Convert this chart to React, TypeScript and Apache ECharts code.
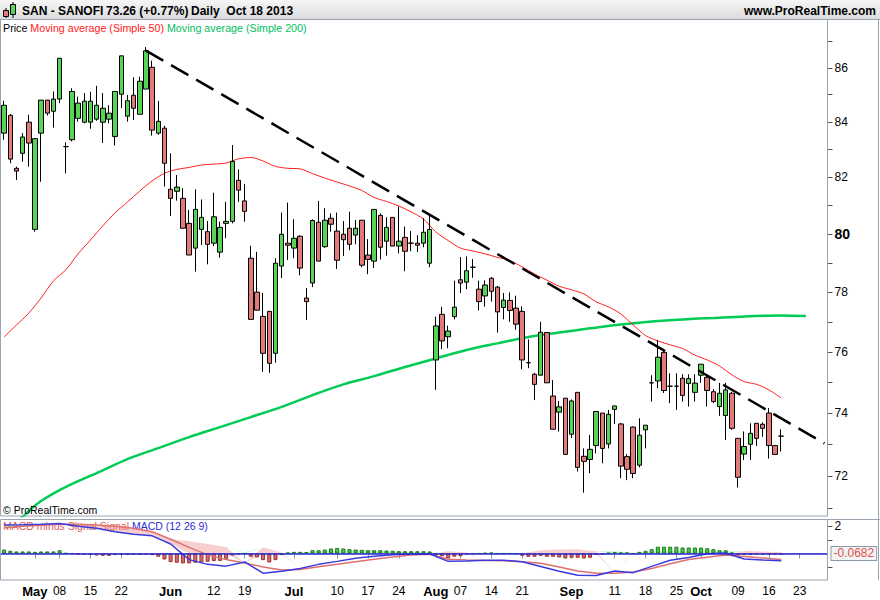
import React, { useEffect, useRef } from "react";
import * as echarts from "echarts";

// ---- trading days (category axis), incl. future days shown on the right ----
const aprDays = [24, 25, 26, 29, 30];
const mayDays = [2, 3, 6, 7, 8, 9, 10, 13, 14, 15, 16, 17, 20, 21, 22, 23, 24, 27, 28, 29, 30, 31];
const junDays = [3, 4, 5, 6, 7, 10, 11, 12, 13, 14, 17, 18, 19, 20, 21, 24, 25, 26, 27, 28];
const julDays = [1, 2, 3, 4, 5, 8, 9, 10, 11, 12, 15, 16, 17, 18, 19, 22, 23, 24, 25, 26, 29, 30, 31];
const augDays = [1, 2, 5, 6, 7, 8, 9, 12, 13, 14, 15, 16, 19, 20, 21, 22, 23, 26, 27, 28, 29, 30];
const sepDays = [2, 3, 4, 5, 6, 9, 10, 11, 12, 13, 16, 17, 18, 19, 20, 23, 24, 25, 26, 27, 30];
const octDays = [1, 2, 3, 4, 7, 8, 9, 10, 11, 14, 15, 16, 17, 18, 21, 22, 23, 24, 25, 28, 29];
const monthDays: [string, number[]][] = [
  ["04", aprDays], ["05", mayDays], ["06", junDays], ["07", julDays],
  ["08", augDays], ["09", sepDays], ["10", octDays],
];
const categories = monthDays.flatMap(([m, ds]) => ds.map((d) => `${m}-${String(d).padStart(2, "0")}`));

const tickLabels: Record<string, string> = {
  "05-02": "May", "05-08": "08", "05-15": "15", "05-22": "22",
  "06-03": "Jun", "06-12": "12", "06-19": "19",
  "07-01": "Jul", "07-10": "10", "07-17": "17", "07-24": "24",
  "08-01": "Aug", "08-07": "07", "08-14": "14", "08-21": "21",
  "09-02": "Sep", "09-11": "11", "09-18": "18", "09-25": "25",
  "10-01": "Oct", "10-09": "09", "10-16": "16", "10-23": "23",
};

// ---- daily candles (Apr 24 .. Oct 18 2013) ----
const opens = [83.59,84.24,82.32,82.86,83.99,80.16,83.59,84.80,84.39,84.84,83.10,83.35,84.13,83.99,83.99,84.10,83.99,84.10,83.47,85.02,84.21,84.98,84.28,85.21,86.02,83.59,83.77,81.57,81.50,81.25,80.37,79.51,80.16,80.08,79.68,79.37,80.37,80.44,81.89,81.16,79.16,78.00,77.18,77.35,75.95,78.89,79.68,79.51,79.92,77.80,78.31,80.41,79.56,80.55,80.10,79.99,80.20,79.96,80.48,79.27,79.06,80.65,79.75,80.58,79.58,79.88,79.68,79.68,79.68,78.99,75.73,77.25,76.50,77.17,78.42,78.34,78.85,78.10,77.87,78.47,78.17,77.48,77.72,77.46,77.35,75.64,75.26,75.23,76.64,74.55,74.03,74.48,73.32,74.67,72.62,72.52,72.96,74.00,73.01,74.12,73.65,72.61,73.55,72.34,73.46,74.98,75.04,75.98,74.87,74.87,75.13,74.96,74.67,75.23,75.16,74.69,74.21,73.92,74.64,73.19,72.69,73.00,73.67,73.64,74.00,72.96,73.26];
const highs = [84.78,84.29,82.38,83.59,84.26,83.39,84.80,84.80,85.12,86.36,83.25,85.24,84.93,85.06,85.11,85.33,85.06,84.61,85.12,86.45,84.99,85.65,85.67,86.78,86.27,84.77,83.86,82.86,82.08,81.61,80.84,81.57,81.21,80.45,81.45,80.43,81.13,83.16,82.28,81.76,79.59,79.38,77.97,77.35,79.16,80.75,81.10,80.51,79.96,78.14,80.51,81.16,80.90,80.72,80.75,80.45,80.78,80.49,80.48,79.82,80.86,80.72,80.58,80.58,80.96,80.26,80.10,79.96,80.55,80.69,77.17,77.50,76.87,78.39,79.20,79.22,79.13,78.39,78.40,78.51,78.21,77.97,77.99,77.88,77.52,76.41,75.31,77.00,76.64,75.07,74.39,74.48,74.44,74.67,72.87,73.30,74.05,74.00,74.10,74.23,73.68,72.69,73.57,73.83,73.61,75.23,76.39,76.08,75.29,75.29,75.26,75.26,75.26,75.59,75.26,74.77,74.98,74.98,74.69,73.19,73.41,73.67,73.67,73.70,74.16,72.96,73.48];
const lows = [83.35,82.50,81.90,82.56,82.38,80.08,81.84,84.23,83.79,84.69,82.14,83.29,84.01,83.95,83.75,84.04,83.23,83.95,83.14,84.50,84.01,84.07,84.28,85.21,83.50,83.53,81.67,80.63,81.17,80.20,79.27,78.70,79.62,78.95,79.58,79.18,79.85,80.37,81.13,80.43,77.08,77.39,75.34,75.31,75.64,78.48,79.10,79.16,78.57,77.06,78.17,79.06,79.51,80.08,78.79,79.24,79.44,79.64,78.85,78.61,78.82,79.12,79.25,79.58,79.33,78.71,79.40,79.37,79.54,78.85,74.75,76.09,76.12,77.08,77.97,78.10,78.49,77.38,77.51,77.68,76.64,77.08,77.00,76.73,75.42,75.46,74.42,75.23,74.98,73.48,73.41,72.68,73.20,72.14,71.48,72.09,72.71,72.40,72.87,73.65,71.93,71.87,71.93,72.27,72.87,74.37,74.80,74.65,74.32,74.10,74.37,74.21,74.37,74.98,74.21,74.32,73.91,73.14,73.46,71.64,72.50,72.50,72.95,73.24,72.55,72.68,72.77];
const closes = [84.61,82.65,82.22,83.45,83.23,83.39,84.80,84.32,84.84,86.36,83.10,85.12,84.69,84.76,84.76,84.61,84.50,84.32,85.12,86.45,84.78,84.50,85.50,86.64,83.70,84.02,82.50,81.25,81.65,80.20,79.27,80.86,80.58,79.64,80.60,80.23,80.44,82.57,81.54,80.79,77.08,77.39,75.95,75.62,78.99,79.99,79.61,79.85,78.82,77.68,80.47,79.06,80.48,80.34,79.09,79.80,79.64,80.20,78.92,79.12,80.86,79.54,80.23,79.58,79.75,79.40,79.68,79.61,80.06,80.16,76.86,76.36,76.69,77.49,78.31,78.73,78.85,77.68,78.24,78.03,77.33,77.73,77.38,76.92,75.73,75.64,74.93,76.65,74.98,73.48,74.20,72.68,74.39,72.27,72.46,72.84,74.05,72.87,73.96,74.23,72.31,72.21,72.08,73.29,73.61,74.98,75.82,74.73,74.87,74.87,74.57,75.12,74.97,75.59,74.73,74.37,74.64,74.75,73.51,71.96,72.93,73.35,73.19,73.51,72.96,72.68,73.26];

// ---- moving averages: [category index, value] ----
const ma50 = [[0,76.49],[2,76.89],[4,77.29],[6,77.80],[8,78.38],[10,78.76],[12,79.31],[14,79.79],[16,80.28],[18,80.74],[20,81.12],[22,81.51],[24,81.87],[26,82.14],[28,82.28],[30,82.35],[32,82.44],[34,82.47],[36,82.51],[38,82.66],[40,82.71],[42,82.58],[44,82.39],[46,82.32],[48,82.30],[50,82.13],[52,81.97],[54,81.83],[56,81.69],[58,81.53],[60,81.28],[62,81.14],[64,80.98],[66,80.77],[68,80.52],[70,80.07],[72,79.77],[74,79.51],[76,79.41],[78,79.31],[80,79.19],[82,79.08],[84,78.86],[86,78.62],[88,78.41],[90,78.20],[92,78.08],[94,77.94],[96,77.67],[98,77.50],[100,77.26],[102,76.89],[104,76.54],[106,76.36],[108,76.23],[110,76.11],[112,75.89],[114,75.73],[116,75.53],[118,75.24],[120,75.02],[122,74.93],[124,74.75],[126,74.485]];
const ma200 = [[0,70.40],[3,70.73],[4,70.91],[6,71.22],[9,71.56],[12,71.84],[15,72.09],[20,72.53],[25,72.88],[30,73.23],[35,73.55],[40,73.87],[45,74.20],[50,74.58],[55,74.93],[60,75.20],[65,75.50],[70,75.78],[75,76.06],[80,76.28],[85,76.49],[90,76.64],[95,76.78],[100,76.91],[105,77.01],[110,77.08],[115,77.13],[120,77.18],[126,77.208],[130,77.19]];
const trendLine = [[23, 86.65], [133, 73.03]];

// ---- MACD (12 26 9) ----
const macdHist = [0.29,0.2,0.15,0.15,0.15,0.12,0.15,0.15,0.15,0.24,0.02,0,-0.05,-0.07,-0.1,-0.15,-0.17,-0.17,-0.12,-0.07,-0.1,-0.07,-0.1,-0.07,-0.12,-0.24,-0.44,-0.63,-0.68,-0.73,-0.73,-0.68,-0.66,-0.61,-0.56,-0.54,-0.39,-0.15,-0.07,0,-0.24,-0.29,-0.49,-0.66,-0.49,-0.12,0.07,0.12,0.12,0.1,0.24,0.24,0.29,0.37,0.41,0.37,0.32,0.29,0.27,0.24,0.24,0.24,0.22,0.2,0.17,0.17,0.17,0.17,0.17,0.15,-0.12,-0.2,-0.37,-0.24,-0.2,-0.05,0,0,0.03,0.07,0,0,0,0,-0.17,-0.24,-0.24,-0.17,-0.24,-0.24,-0.29,-0.37,-0.32,-0.32,-0.37,-0.32,-0.1,-0.07,0.05,0.1,0.07,0.07,0,0.12,0.2,0.32,0.5,0.5,0.5,0.5,0.44,0.44,0.44,0.44,0.39,0.32,0.24,0.24,0.07,-0.1,-0.1,-0.1,-0.07,-0.07,-0.07,-0.07,-0.07];
const macdIdx = [0,3,6,9,12,15,18,21,24,27,30,33,36,39,42,45,48,51,54,57,60,63,66,69,72,75,78,81,84,87,90,93,96,99,102,105,108,111,114,117,120,123,126];
const macdVals = [2.1,2.12,2.15,2.2,2.0,1.85,1.6,1.42,1.3,0.7,-0.45,-0.8,-0.93,-0.62,-1.45,-1.3,-1.1,-0.8,-0.58,-0.35,-0.2,-0.1,-0.03,-0.02,-0.58,-0.56,-0.49,-0.49,-0.61,-0.95,-1.3,-1.6,-1.62,-1.29,-1.41,-0.95,-0.5,-0.3,-0.02,0.03,-0.4,-0.48,-0.54];
const signalVals = [1.9,2.0,2.07,2.15,2.15,2.1,2.0,1.85,1.6,1.05,0.45,-0.1,-0.45,-0.7,-1.0,-1.22,-1.17,-0.97,-0.8,-0.6,-0.42,-0.25,-0.12,-0.05,-0.42,-0.48,-0.52,-0.54,-0.6,-0.72,-1.0,-1.28,-1.46,-1.45,-1.36,-1.1,-0.75,-0.45,-0.27,-0.12,-0.22,-0.33,-0.44];

const lastPrice = 73.26;
const lastMa50 = 74.485;
const lastMa200 = 77.208;
const lastHist = -0.0682;
const lastSignal = -0.4724;
const priceLabels = [72, 74, 76, 78, 80, 82, 84, 86];
const priceTicks = [71, 72, 73, 74, 75, 76, 77, 78, 79, 80, 81, 82, 83, 84, 85, 86, 87];

const L = Math.log;
const FONT = "'Liberation Sans', Arial, sans-serif";
const UP = "#55d455";
const DOWN = "#e27a7a";

function boxLabel(text: string, color: string, bg: string) {
  return {
    show: true,
    position: "end",
    distance: 4,
    formatter: text,
    color,
    backgroundColor: bg,
    borderColor: "#8c9aa8",
    borderWidth: 1,
    padding: [1, 2, 0, 2],
    fontSize: 12,
    fontFamily: FONT,
  };
}

function buildOption() {
  const candleData = opens.map((o, i) => [L(o), L(closes[i]), L(lows[i]), L(highs[i])]);
  const m50 = ma50.map(([i, v]) => [i, L(v)]);
  const m200 = ma200.map(([i, v]) => [i, L(v)]);
  const base = macdIdx.map((i, k) => [i, Math.min(macdVals[k], signalVals[k])]);
  const pinkBand = macdIdx.map((i, k) => [i, Math.max(0, signalVals[k] - macdVals[k])]);
  const greenBand = macdIdx.map((i, k) => [i, Math.max(0, macdVals[k] - signalVals[k])]);
  const histData = macdHist.map((v) => ({
    value: v,
    itemStyle: v >= 0 ? { color: "#44cc44", borderColor: "#1e7a1e" } : { color: "#dd6a6a", borderColor: "#9a2e2e" },
  }));
  const isTick = (_i: number, v: string) => v in tickLabels;
  const headStyle = { fontSize: 12, fontWeight: "bold", color: "#000", fontFamily: FONT };

  return {
    animation: false,
    backgroundColor: "#ffffff",
    title: [
      { left: 22, top: 5, padding: 0, text: "SAN - SANOFI", textStyle: headStyle },
      { left: 106, top: 5, padding: 0, text: "73.26 (+0.77%)", textStyle: headStyle },
      { left: 191, top: 5, padding: 0, text: "Daily  Oct 18 2013", textStyle: headStyle },
      { right: 4, top: 5, padding: 0, text: "www.ProRealTime.com", textStyle: headStyle },
      {
        left: 3, top: 22, padding: 0,
        text: "{k|Price} {r|Moving average (Simple 50)} {g|Moving average (Simple 200)}",
        textStyle: {
          fontSize: 10.7, fontFamily: FONT, fontWeight: "normal",
          rich: {
            k: { color: "#000", fontSize: 10.7, fontFamily: FONT, fontWeight: "normal" },
            r: { color: "#ff1a1a", fontSize: 10.7, fontFamily: FONT, fontWeight: "normal" },
            g: { color: "#00c060", fontSize: 10.7, fontFamily: FONT, fontWeight: "normal" },
          },
        },
      },
      { left: 3, top: 504, padding: 0, text: "© ProRealTime.com", textStyle: { fontSize: 10.5, color: "#000", fontWeight: "normal", fontFamily: FONT } },
      {
        left: 3, top: 520, padding: 0, z: 0,
        text: "{r|MACD minus Signal} {r|Signal} {b|MACD (12 26 9)}",
        textStyle: {
          fontSize: 10.5, fontFamily: FONT, fontWeight: "normal",
          rich: {
            r: { color: "#e05a5a", fontSize: 10.5, fontFamily: FONT, fontWeight: "normal" },
            b: { color: "#2b2bd6", fontSize: 10.5, fontFamily: FONT, fontWeight: "normal" },
          },
        },
      },
    ],
    graphic: [
      {
        type: "rect", z: -10, silent: true,
        shape: { x: 0, y: 0, width: 880, height: 20 },
        style: {
          fill: new echarts.graphic.LinearGradient(0, 0, 0, 1, [
            { offset: 0, color: "#f6f6f6" },
            { offset: 1, color: "#d9dadc" },
          ]),
        },
      },
      { type: "line", silent: true, shape: { x1: 0, y1: 19.5, x2: 880, y2: 19.5 }, style: { stroke: "#9aa5b1", lineWidth: 1 } },
      // header icon
      { type: "line", silent: true, shape: { x1: 6, y1: 8, x2: 6, y2: 18 }, style: { stroke: "#000", lineWidth: 1 } },
      { type: "rect", silent: true, shape: { x: 3.5, y: 10.5, width: 5, height: 6 }, style: { fill: DOWN, stroke: "#000", lineWidth: 1 } },
      { type: "line", silent: true, shape: { x1: 13, y1: 2, x2: 13, y2: 18 }, style: { stroke: "#000", lineWidth: 1 } },
      { type: "rect", silent: true, shape: { x: 10.5, y: 4.5, width: 5, height: 10 }, style: { fill: UP, stroke: "#000", lineWidth: 1 } },
      // panel frames
      { type: "rect", silent: true, z: 20, shape: { x: 0.5, y: 19.5, width: 827, height: 496.5 }, style: { fill: "none", stroke: "#9aa5b1", lineWidth: 1 } },
      { type: "rect", silent: true, z: 20, shape: { x: 0.5, y: 519.5, width: 827, height: 60.5 }, style: { fill: "none", stroke: "#9aa5b1", lineWidth: 1 } },
      { type: "line", silent: true, z: 20, shape: { x1: 827, y1: 519.5, x2: 880, y2: 519.5 }, style: { stroke: "#9aa5b1", lineWidth: 1 } },
      { type: "line", silent: true, z: 20, shape: { x1: 878.5, y1: 20, x2: 878.5, y2: 580 }, style: { stroke: "#9aa5b1", lineWidth: 1 } },
    ],
    grid: [
      { left: 1, top: 20, width: 826.5, height: 496 },
      { left: 1, top: 519.5, width: 826.5, height: 60.5 },
    ],
    xAxis: [
      { type: "category", gridIndex: 0, data: categories, boundaryGap: true, show: false },
      {
        type: "category", gridIndex: 1, data: categories, boundaryGap: true,
        axisLine: { show: true, lineStyle: { color: "#9aa5b1" } },
        axisTick: { show: true, interval: isTick, alignWithLabel: true, length: 5, lineStyle: { color: "#8a96a3" } },
        axisLabel: {
          interval: isTick,
          margin: 5,
          color: "#000",
          fontSize: 12,
          fontFamily: FONT,
          formatter: (v: string) => {
            const t = tickLabels[v] || "";
            return /^[A-Z]/.test(t) ? `{m|${t}}` : t;
          },
          rich: { m: { fontWeight: "bold", fontSize: 13, color: "#000", fontFamily: FONT } },
        },
        splitLine: { show: false },
      },
    ],
    yAxis: [
      {
        type: "value", gridIndex: 0, position: "right",
        min: L(70.757), max: L(87.81), scale: true,
        axisLine: { show: true, lineStyle: { color: "#9aa5b1" } },
        axisTick: { show: true, customValues: priceTicks.map((p) => L(p)), length: 5, lineStyle: { color: "#555" } },
        axisLabel: {
          customValues: priceLabels.map((p) => L(p)),
          margin: 7,
          color: "#000",
          fontSize: 12,
          fontFamily: FONT,
          formatter: (v: number) => {
            const p = Math.round(Math.exp(v));
            return p === 80 ? "{b|80}" : String(p);
          },
          rich: { b: { fontWeight: "bold", fontSize: 14, color: "#000", fontFamily: FONT } },
        },
        splitLine: { show: false },
      },
      {
        type: "value", gridIndex: 1, position: "right",
        min: -1.95, max: 2.5,
        axisLine: { show: true, lineStyle: { color: "#9aa5b1" } },
        axisTick: { show: true, customValues: [-1, 1, 2], length: 5, lineStyle: { color: "#555" } },
        axisLabel: { customValues: [2], margin: 7, color: "#000", fontSize: 12, fontFamily: FONT },
        splitLine: { show: false },
      },
    ],
    series: [
      {
        type: "line", name: "MA200", xAxisIndex: 0, yAxisIndex: 0, data: m200,
        showSymbol: false, smooth: 0.3, z: 3,
        lineStyle: { color: "#00cc55", width: 2.5 },
        markLine: {
          silent: true, symbol: "none", animation: false,
          data: [{ yAxis: L(lastMa200), lineStyle: { opacity: 0 }, label: boxLabel("77.208", "#00b050", "#f3f3f3") }],
        },
      },
      {
        type: "line", name: "MA50", xAxisIndex: 0, yAxisIndex: 0, data: m50,
        showSymbol: false, smooth: 0.3, z: 3,
        lineStyle: { color: "#ff2020", width: 1 },
        markLine: {
          silent: true, symbol: "none", animation: false,
          data: [{ yAxis: L(lastMa50), lineStyle: { opacity: 0 }, label: boxLabel("74.485", "#ff0000", "#f3f3f3") }],
        },
      },
      {
        type: "candlestick", name: "SAN", xAxisIndex: 0, yAxisIndex: 0, data: candleData,
        barWidth: 5, z: 4,
        itemStyle: {
          color: UP, color0: DOWN,
          borderColor: "#000", borderColor0: "#000", borderColorDoji: "#000",
          borderWidth: 1,
        },
        markLine: {
          silent: true, symbol: "none", animation: false,
          data: [
            [
              { coord: [trendLine[0][0], L(trendLine[0][1])], lineStyle: { color: "#000", width: 2.5, type: [20, 9] }, label: { show: false } },
              { coord: [trendLine[1][0], L(trendLine[1][1])] },
            ],
            { yAxis: L(lastPrice), lineStyle: { opacity: 0 }, label: boxLabel("73.26", "#000", "#f7c600") },
          ],
        },
      },
      {
        type: "line", name: "base", xAxisIndex: 1, yAxisIndex: 1, data: base, stack: "fill",
        showSymbol: false, z: 1, lineStyle: { opacity: 0 },
        markLine: {
          silent: true, symbol: "none", animation: false,
          data: [{ yAxis: lastSignal, lineStyle: { opacity: 0 }, label: boxLabel("-0.4724", "#e06060", "#f3f3f3") }],
        },
      },
      {
        type: "line", name: "pink", xAxisIndex: 1, yAxisIndex: 1, data: pinkBand, stack: "fill",
        showSymbol: false, z: 1, lineStyle: { opacity: 0 },
        areaStyle: { color: "rgba(238,140,140,0.6)" },
      },
      {
        type: "line", name: "green", xAxisIndex: 1, yAxisIndex: 1, data: greenBand, stack: "fill",
        showSymbol: false, z: 1, lineStyle: { opacity: 0 },
        areaStyle: { color: "rgba(140,238,140,0.7)" },
      },
      {
        type: "bar", name: "MACD minus Signal", xAxisIndex: 1, yAxisIndex: 1, data: histData,
        barWidth: 4, z: 2,
        itemStyle: { borderWidth: 1 },
        markLine: {
          silent: true, symbol: "none", animation: false,
          data: [{ yAxis: 0, lineStyle: { color: "#2b2bd6", width: 1.5, type: "solid" }, label: boxLabel("-0.0682", "#e05050", "#f3f3f3") }],
        },
      },
      {
        type: "line", name: "Signal", xAxisIndex: 1, yAxisIndex: 1,
        data: macdIdx.map((i, k) => [i, signalVals[k]]),
        showSymbol: false, z: 3, lineStyle: { color: "#e07070", width: 1.5 },
      },
      {
        type: "line", name: "MACD", xAxisIndex: 1, yAxisIndex: 1,
        data: macdIdx.map((i, k) => [i, macdVals[k]]),
        showSymbol: false, z: 3, lineStyle: { color: "#3a3ae0", width: 1.5 },
      },
    ],
  };
}

export default function App() {
  const ref = useRef<HTMLDivElement>(null);
  useEffect(() => {
    if (!ref.current) return;
    const chart = echarts.init(ref.current, null, { renderer: "svg" });
    chart.setOption(buildOption() as any);
    return () => chart.dispose();
  }, []);
  return (
    <div
      ref={ref}
      style={{ position: "fixed", left: 0, top: 0, width: 880, height: 600, background: "#fff" }}
    />
  );
}
